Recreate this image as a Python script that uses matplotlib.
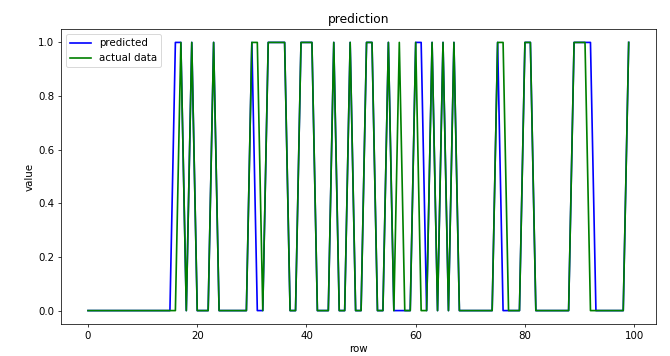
import numpy as np
import matplotlib
matplotlib.use('Agg')
import matplotlib.pyplot as plt

#%%----------------------------------------------------------
### Data: row indices where each series equals 1 (all other rows are 0)
n_rows = 100
predicted_ones = [16, 17, 19, 23, 30, 33, 34, 35, 36, 39, 40, 41, 45, 48, 51, 52,
                  55, 60, 61, 63, 65, 67, 75, 80, 81, 89, 90, 91, 92, 99]
actual_ones = [17, 19, 23, 30, 31, 33, 34, 35, 36, 39, 40, 41, 45, 48, 51, 52,
               55, 57, 60, 63, 65, 67, 75, 76, 80, 81, 89, 90, 91, 99]

rows = np.arange(n_rows)
predicted = np.zeros(n_rows)
predicted[predicted_ones] = 1.0
actual = np.zeros(n_rows)
actual[actual_ones] = 1.0

#%%----------------------------------------------------------
### Plot
plt.rcParams['font.size'] = 11
plt.rcParams['lines.linewidth'] = 1.8

dpi = 67
fig = plt.figure(figsize=(670 / dpi, 356 / dpi), dpi=dpi)
ax = fig.add_axes([0.0910, 0.0899, 0.9787 - 0.0910, 0.9185 - 0.0899])

ax.plot(rows, predicted, color='blue', label='predicted')
ax.plot(rows, actual, color='green', label='actual data')

ax.set_title('prediction')
ax.set_xlabel('row')
ax.set_ylabel('value')
ax.legend(loc='upper left')

fig.savefig('out.png', dpi=dpi)
